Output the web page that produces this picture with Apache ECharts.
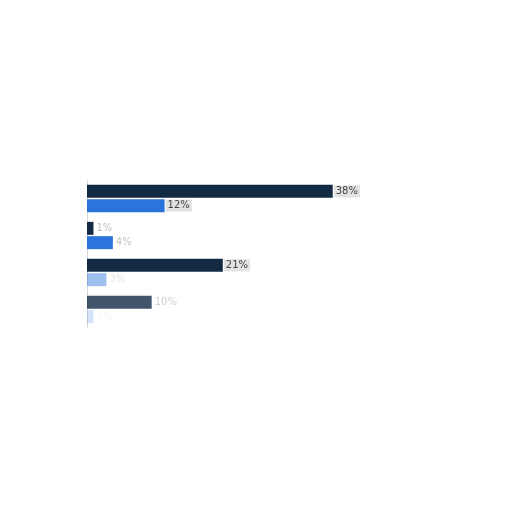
<!DOCTYPE html>
<html>
<head>
<meta charset="utf-8">
<script src="https://cdn.jsdelivr.net/npm/echarts@6/dist/echarts.min.js"></script>
<style>
  html, body { margin: 0; padding: 0; background: #fff; }
  #chart { width: 512px; height: 512px; }
</style>
</head>
<body>
<div id="chart"></div>
<script>
// four groups, two series each (dark / blue), values in percent
const categories = ["A", "B", "C", "D"]
const darkValues = [38, 1, 21, 10]
const blueValues = [12, 4, 3, 1]

// how strongly each bar shows up (the lower bars look washed out)
const darkOpacity = [1, 1, 1, 0.8]
const blueOpacity = [1, 1, 0.45, 0.2]
const darkLabelFaded = [false, true, false, true]
const blueLabelFaded = [false, true, true, true]

const DARK = "#132a45"
const BLUE = "#2b74dc"

const chart = echarts.init(document.getElementById("chart"), null, { renderer: "canvas" })

function items(values, opacity, faded) {
  return values.map((v, i) => ({
    value: v,
    itemStyle: { opacity: opacity[i] },
    label: faded[i]
      ? { color: "#c4c4c4", backgroundColor: "transparent" }
      : {}
  }))
}

const label = {
  show: true,
  position: "right",
  distance: 1,
  formatter: "{c}%",
  fontFamily: "DejaVu Sans",
  fontSize: 10,
  color: "#444",
  backgroundColor: "#e2e2e2",
  padding: [1, 2, 1, 2]
}

chart.setOption({
  animation: false,
  backgroundColor: "#fff",
  grid: { left: 87, top: 180, width: 388, height: 148, containLabel: false },
  xAxis: { type: "value", min: 0, max: 60, show: false },
  yAxis: {
    type: "category",
    data: categories,
    inverse: true,
    axisLine: { show: true, lineStyle: { color: "#d8d8d8", width: 1 } },
    axisTick: { show: false },
    axisLabel: { show: false }
  },
  series: [
    {
      type: "bar",
      data: items(darkValues, darkOpacity, darkLabelFaded),
      barWidth: 13,
      barGap: "10%",
      itemStyle: { color: DARK },
      label
    },
    {
      type: "bar",
      data: items(blueValues, blueOpacity, blueLabelFaded),
      barWidth: 13,
      barGap: "10%",
      itemStyle: { color: BLUE },
      label
    }
  ]
})
</script>
</body>
</html>
